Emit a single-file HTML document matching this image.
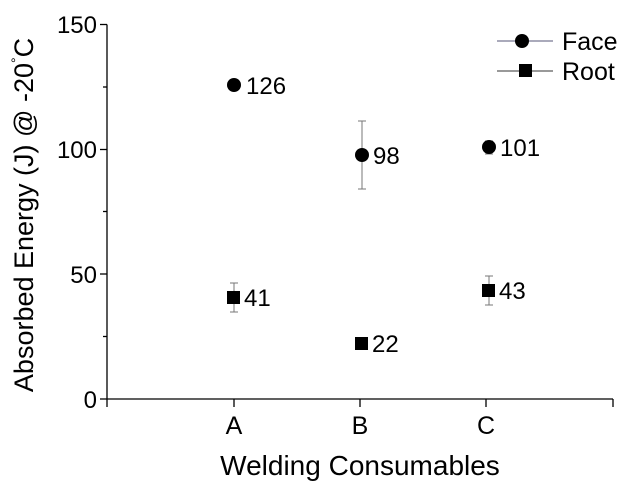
<!DOCTYPE html>
<html><head><meta charset="utf-8"><style>
html,body{margin:0;padding:0;background:#fff;}
svg{display:block;font-family:"Liberation Sans",Arial,sans-serif;}
</style></head><body>
<svg width="633" height="487" viewBox="0 0 633 487">
<g stroke="#000" stroke-width="1.3" fill="none">
<line x1="107" y1="24.5" x2="107" y2="399"/>
<line x1="107" y1="399" x2="613" y2="399"/>
<line x1="100" y1="24.5" x2="107" y2="24.5"/>
<line x1="100" y1="149.5" x2="107" y2="149.5"/>
<line x1="100" y1="274" x2="107" y2="274"/>
<line x1="100" y1="399" x2="107" y2="399"/>
<line x1="103" y1="87" x2="107" y2="87"/>
<line x1="103" y1="211.5" x2="107" y2="211.5"/>
<line x1="103" y1="336.5" x2="107" y2="336.5"/>
<line x1="107" y1="399" x2="107" y2="407"/>
<line x1="234" y1="399" x2="234" y2="407"/>
<line x1="360" y1="399" x2="360" y2="407"/>
<line x1="486" y1="399" x2="486" y2="407"/>
<line x1="613" y1="399" x2="613" y2="407"/>
</g>
<g font-size="24" text-anchor="end" fill="#000">
<text x="97" y="33">150</text>
<text x="97" y="158">100</text>
<text x="97" y="283">50</text>
<text x="97" y="408">0</text>
</g>
<g font-size="25" text-anchor="middle">
<text x="234" y="434">A</text>
<text x="360" y="434">B</text>
<text x="486" y="434">C</text>
</g>
<text x="360" y="475" font-size="28" text-anchor="middle">Welding Consumables</text>
<text font-size="27" text-anchor="middle" transform="translate(33,215) rotate(-90)">Absorbed Energy (J) @ -20<tspan font-size="14" dy="-12">°</tspan><tspan dy="12">C</tspan></text>
<g stroke="#777" stroke-width="1">
<line x1="362" y1="121" x2="362" y2="189"/><line x1="358" y1="121" x2="366" y2="121"/><line x1="358" y1="189" x2="366" y2="189"/>
<line x1="489" y1="141" x2="489" y2="154"/><line x1="485" y1="141" x2="493" y2="141"/><line x1="485" y1="154" x2="493" y2="154"/>
<line x1="234" y1="283" x2="234" y2="312"/><line x1="230" y1="283" x2="238" y2="283"/><line x1="230" y1="312" x2="238" y2="312"/>
<line x1="489" y1="276" x2="489" y2="305"/><line x1="485" y1="276" x2="493" y2="276"/><line x1="485" y1="305" x2="493" y2="305"/>
</g>
<g fill="#000">
<circle cx="234" cy="85" r="7"/>
<circle cx="362" cy="155" r="7"/>
<circle cx="489" cy="147" r="7"/>
<rect x="227" y="291" width="13" height="13"/>
<rect x="355" y="337" width="13" height="13"/>
<rect x="482" y="284" width="13" height="13"/>
</g>
<g font-size="24">
<text x="246" y="94">126</text>
<text x="373" y="164">98</text>
<text x="500" y="156">101</text>
<text x="244" y="306">41</text>
<text x="372" y="352">22</text>
<text x="499" y="299">43</text>
</g>
<line x1="497" y1="41" x2="553" y2="41" stroke="#557" stroke-width="1"/>
<circle cx="522" cy="41" r="7" fill="#000"/>
<text x="562" y="50" font-size="25">Face</text>
<line x1="497" y1="71" x2="553" y2="71" stroke="#333" stroke-width="1"/>
<rect x="519" y="64" width="13" height="13" fill="#000"/>
<text x="562" y="80" font-size="25">Root</text>
</svg>
</body></html>
